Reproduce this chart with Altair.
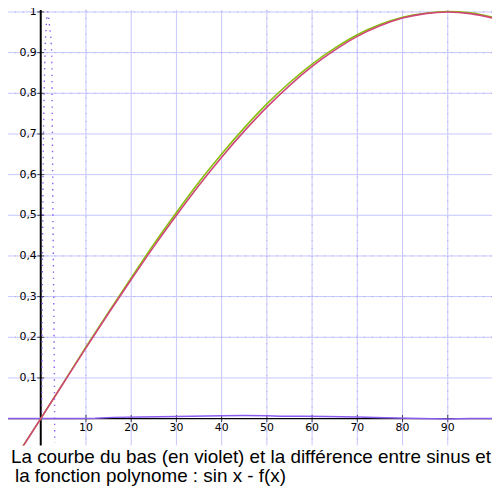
import altair as alt
import pandas as pd

# ---- data ----
x_deg = [-5, 0, 5, 10, 15, 20, 25, 30, 35, 40, 45, 50, 55, 60, 65, 70, 75, 80, 85, 90, 95, 100]
sin_vals = [-0.087, 0.0, 0.087, 0.174, 0.259, 0.342, 0.423, 0.5, 0.574, 0.643, 0.707, 0.766,
            0.819, 0.866, 0.906, 0.940, 0.966, 0.985, 0.996, 1.0, 0.996, 0.985]
poly_vals = [-0.086, 0.0, 0.088, 0.176, 0.262, 0.346, 0.429, 0.507, 0.582, 0.651, 0.715, 0.774,
             0.826, 0.872, 0.911, 0.944, 0.969, 0.987, 0.997, 1.001, 0.998, 0.987]

diff_x = [-7.24, 0, 7, 12, 16, 22, 30, 40, 45, 50, 53, 58, 63, 70, 76, 84, 90, 95, 99.78]
diff_y = [0.0, 0.0, 0.0, 0.001, 0.003, 0.004, 0.005, 0.007, 0.0075, 0.007, 0.006, 0.0055,
          0.005, 0.004, 0.002, 0.0, -0.001, 0.0, 0.0]

spike_x = [0.2, 0.45, 0.95, 1.25, 1.54, 1.9, 2.41, 2.7, 3.07, 3.1]
spike_y = [0.0, 0.5, 0.9, 0.97, 1.0, 0.97, 0.9, 0.5, 0.0, -0.06]

grid_x = [10, 20, 30, 40, 50, 60, 70, 80, 90]
grid_y = [0.1, 0.2, 0.3, 0.4, 0.5, 0.6, 0.7, 0.8, 0.9, 1.0]
dotted_x = [10, 50, 60, 70, 90]
dotted_y = [0.2, 0.3, 0.4, 0.8, 0.9, 1.0]

xtick_vals = [10, 20, 30, 40, 50, 60, 70, 80, 90]
xtick_text = ["10", "20", "30", "40", "50", "60", "70", "80", "90"]
ytick_vals = [0.1, 0.2, 0.3, 0.4, 0.5, 0.6, 0.7, 0.8, 0.9, 1.0]
ytick_text = ["0,1", "0,2", "0,3", "0,4", "0,5", "0,6", "0,7", "0,8", "0,9", "1"]

caption = ["La courbe du bas (en violet) et la différence entre sinus et",
           "la fonction polynome : sin x - f(x)"]

# ---- scales ----
XS = alt.Scale(domain=[-7.24, 99.78], nice=False, zero=False)
YS = alt.Scale(domain=[-0.0659, 1.0049], nice=False, zero=False)


def X(f):
    return alt.X(f, type="quantitative", scale=XS, axis=None)


def Y(f):
    return alt.Y(f, type="quantitative", scale=YS, axis=None)


def XD(v):
    return alt.XDatum(v, type="quantitative", scale=XS, axis=None)


def YD(v):
    return alt.YDatum(v, type="quantitative", scale=YS, axis=None)


GRID = "#C6C6FF"
DOT = "#A4A4F0"

vgrid = alt.Chart(pd.DataFrame({"g": grid_x})).mark_rule(color=GRID, strokeWidth=1).encode(x=X("g"))
hgrid = alt.Chart(pd.DataFrame({"g": grid_y})).mark_rule(color=GRID, strokeWidth=1).encode(y=Y("g"))
vdot = alt.Chart(pd.DataFrame({"g": dotted_x})).mark_rule(color=DOT, strokeWidth=1, strokeDash=[1, 7]).encode(x=X("g"))
hdot = alt.Chart(pd.DataFrame({"g": dotted_y})).mark_rule(color=DOT, strokeWidth=1, strokeDash=[1, 7]).encode(y=Y("g"))

yaxis = alt.Chart(pd.DataFrame({"a": [0]})).mark_rule(color="black", strokeWidth=2).encode(x=XD(0))
xaxis = alt.Chart(pd.DataFrame({"a": [0]})).mark_rule(color="black", strokeWidth=1.2).encode(y=YD(0))

yticks = alt.Chart(pd.DataFrame({"v": ytick_vals})).mark_tick(
    orient="horizontal", size=7, thickness=1, color="black").encode(x=XD(0), y=Y("v"))
xticks = alt.Chart(pd.DataFrame({"v": xtick_vals})).mark_tick(
    orient="vertical", size=7, thickness=1, color="black").encode(x=X("v"), y=YD(0))

ylabels = alt.Chart(pd.DataFrame({"v": ytick_vals, "t": ytick_text})).mark_text(
    align="right", baseline="middle", dx=-4, font="DejaVu Sans", fontSize=11, color="black"
).encode(x=XD(0), y=Y("v"), text="t:N")
xlabels = alt.Chart(pd.DataFrame({"v": xtick_vals, "t": xtick_text})).mark_text(
    align="center", baseline="middle", dy=10, font="DejaVu Sans", fontSize=11, color="black"
).encode(x=X("v"), y=YD(0), text="t:N")

curves = pd.DataFrame({"x": x_deg, "s": sin_vals, "p": poly_vals})
green = alt.Chart(curves).mark_line(color="#86BF0A", strokeWidth=1.6, clip=True,
                                    interpolate="monotone").encode(x=X("x"), y=Y("p"))
pink = alt.Chart(curves).mark_line(color="#D0457A", strokeWidth=1.6, clip=True,
                                   interpolate="monotone").encode(x=X("x"), y=Y("s"))

violet = alt.Chart(pd.DataFrame({"x": diff_x, "y": diff_y})).mark_line(
    color="#8A5CF0", strokeWidth=1.5, clip=True).encode(x=X("x"), y=Y("y"))
spike = alt.Chart(pd.DataFrame({"x": spike_x, "y": spike_y})).mark_line(
    color="#8A5CF0", strokeWidth=1.4, strokeDash=[1.4, 5], clip=True,
    interpolate="monotone").encode(x=X("x"), y=Y("y"))

cap1 = alt.Chart(pd.DataFrame({"t": [caption[0]]})).mark_text(
    align="left", baseline="alphabetic", font="Liberation Sans", fontSize=19, color="black"
).encode(x=alt.value(3), y=alt.value(457), text="t:N")
cap2 = alt.Chart(pd.DataFrame({"t": [caption[1]]})).mark_text(
    align="left", baseline="alphabetic", font="Liberation Sans", fontSize=19, color="black"
).encode(x=alt.value(7), y=alt.value(476), text="t:N")

chart = alt.layer(
    vgrid, hgrid, vdot, hdot, xaxis, yaxis, xticks, yticks,
    violet, spike, green, pink, ylabels, xlabels, cap1, cap2
).properties(
    width=488, height=439,
    autosize=alt.AutoSizeParams(type="none"),
    padding={"left": 0, "top": 0, "right": 0, "bottom": 45},
).configure_view(strokeWidth=0)

chart.save("out.html", embed_options={"renderer": "svg", "actions": False})
